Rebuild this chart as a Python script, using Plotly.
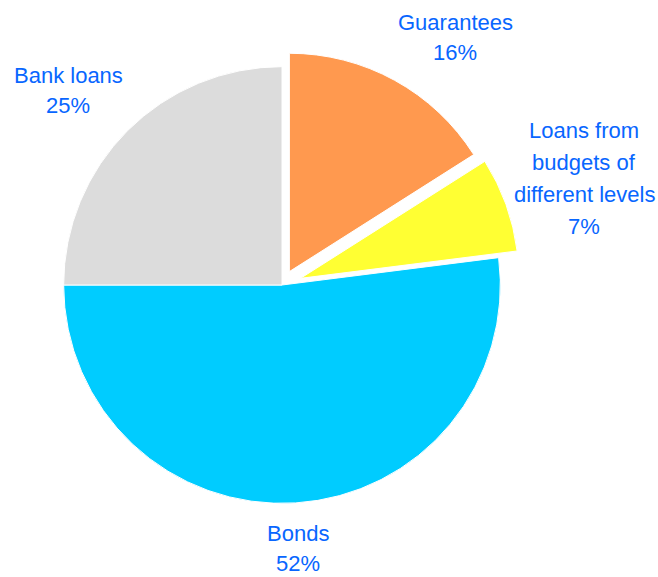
import plotly.graph_objects as go

# Structure of the debt, by source
labels = ["Guarantees", "Loans from budgets of different levels", "Bonds", "Bank loans"]
values = [16, 7, 52, 25]
label_lines = [["Guarantees"], ["Loans from", "budgets of", "different levels"], ["Bonds"], ["Bank loans"]]
colors = ["#FF994F", "#FFFF33", "#00CCFF", "#DCDCDC"]
pulls = [0.07, 0.09, 0, 0]

W, H = 658, 577
text_color = "#0866FF"
font_family = "Liberation Sans, Arial, sans-serif"

# Pie square centred on (282, 285) px
cx_pie, cy_pie, half = 282, 285, 238
fig = go.Figure(go.Pie(
    labels=labels,
    values=values,
    sort=False,
    direction="clockwise",
    rotation=0,
    pull=pulls,
    marker=dict(colors=colors, line=dict(color="white", width=1)),
    textinfo="none",
    hoverinfo="label+percent",
    showlegend=False,
    domain=dict(x=[(cx_pie - half) / W, (cx_pie + half) / W],
                y=[1 - (cy_pie + half) / H, 1 - (cy_pie - half) / H]),
))

# Label block anchors (pixel centre of the first line) and line step
anchors = [(455, 22), (584, 130), (298, 533), (68, 75)]
steps = [30, 32, 30, 30]

total = sum(values)
annotations = []
for lines, v, (cx, cy), step in zip(label_lines, values, anchors, steps):
    block = lines + [f"{round(100 * v / total)}%"]
    for i, t in enumerate(block):
        annotations.append(dict(
            x=cx / W, y=1 - (cy + i * step) / H,
            xref="paper", yref="paper",
            text=t, showarrow=False,
            xanchor="center", yanchor="middle",
            font=dict(family=font_family, size=22, color=text_color),
        ))

fig.update_layout(
    width=W, height=H,
    margin=dict(l=0, r=0, t=0, b=0),
    paper_bgcolor="white",
    plot_bgcolor="white",
    annotations=annotations,
)

fig.write_html("out.html")
